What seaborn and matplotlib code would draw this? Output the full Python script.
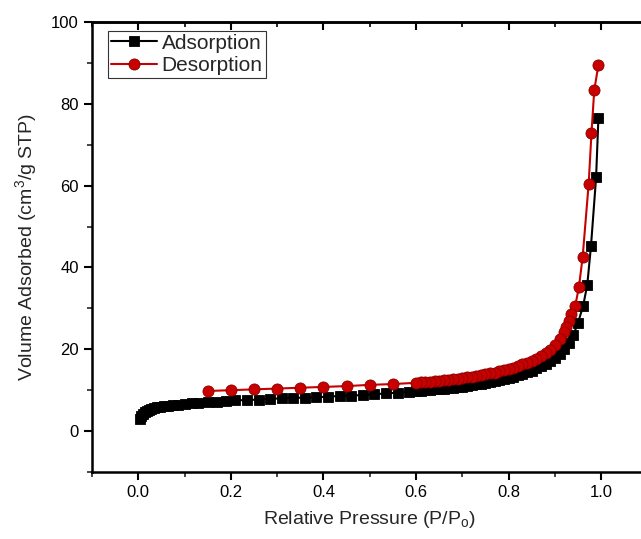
import numpy as np
import pandas as pd
import seaborn as sns
import matplotlib
matplotlib.use("Agg")
import matplotlib.pyplot as plt
from matplotlib.ticker import MultipleLocator

# adsorption branch (P/Po, volume)
ads_p = [0.003, 0.006, 0.01, 0.014, 0.018, 0.023, 0.028, 0.034, 0.04, 0.048,
         0.056, 0.065, 0.075, 0.085, 0.1, 0.115, 0.13, 0.15, 0.17, 0.19,
         0.21, 0.235, 0.26, 0.285, 0.31, 0.335, 0.36, 0.385, 0.41, 0.435,
         0.46, 0.485, 0.51, 0.535, 0.56, 0.585, 0.6,
         0.61, 0.62, 0.63, 0.64, 0.65, 0.66, 0.67, 0.68, 0.69, 0.70,
         0.71, 0.72, 0.73, 0.74, 0.75, 0.76, 0.77, 0.78, 0.79, 0.80,
         0.81, 0.82, 0.83, 0.84, 0.85, 0.86, 0.87, 0.88, 0.89, 0.90,
         0.91, 0.92, 0.93, 0.94, 0.95, 0.961, 0.970, 0.978, 0.989, 0.994]
ads_v = [3.0, 3.6, 4.2, 4.6, 4.9, 5.2, 5.4, 5.6, 5.8, 6.0,
         6.1, 6.2, 6.4, 6.5, 6.6, 6.8, 6.9, 7.0, 7.2, 7.3,
         7.5, 7.6, 7.7, 7.9, 8.0, 8.1, 8.2, 8.3, 8.4, 8.6,
         8.7, 8.8, 9.0, 9.2, 9.4, 9.6, 9.8,
         9.9, 10.0, 10.1, 10.2, 10.3, 10.4, 10.5, 10.6, 10.8, 10.9,
         11.1, 11.2, 11.4, 11.6, 11.8, 12.0, 12.2, 12.5, 12.7, 13.0,
         13.3, 13.6, 14.0, 14.4, 14.8, 15.3, 15.8, 16.4, 17.1, 17.8,
         18.8, 20.0, 21.5, 23.5, 26.5, 30.6, 35.8, 45.3, 62.0, 76.5]

# desorption branch
des_p = [0.994, 0.985, 0.979, 0.973, 0.960, 0.952, 0.944,
         0.935, 0.93, 0.925, 0.92, 0.91, 0.90, 0.89, 0.88, 0.87, 0.86,
         0.85, 0.84, 0.83, 0.82, 0.81, 0.80, 0.79, 0.78, 0.77, 0.76,
         0.75, 0.74, 0.73, 0.72, 0.71, 0.70, 0.69, 0.68, 0.67, 0.66,
         0.65, 0.64, 0.63, 0.62, 0.61, 0.60,
         0.55, 0.50, 0.45, 0.40, 0.35, 0.30, 0.25, 0.20, 0.15]
des_v = [89.5, 83.3, 72.8, 60.5, 42.6, 35.3, 30.6,
         28.5, 26.8, 25.4, 24.2, 22.4, 21.0, 19.9, 19.0, 18.3, 17.7,
         17.2, 16.7, 16.3, 15.9, 15.5, 15.2, 14.9, 14.6, 14.3, 14.1,
         13.9, 13.7, 13.5, 13.3, 13.1, 13.0, 12.8, 12.7, 12.5, 12.4,
         12.3, 12.2, 12.1, 12.0, 11.9, 11.8,
         11.5, 11.3, 11.0, 10.8, 10.6, 10.4, 10.2, 10.0, 9.8]

x_ticks = [0.0, 0.2, 0.4, 0.6, 0.8, 1.0]
x_minor = [-0.1, 0.1, 0.3, 0.5, 0.7, 0.9, 1.1]
x_ticklabels = ["0.0", "0.2", "0.4", "0.6", "0.8", "1.0"]
y_ticks = [0, 20, 40, 60, 80, 100]

ads = pd.DataFrame({"p": ads_p, "v": ads_v})
des = pd.DataFrame({"p": des_p, "v": des_v})

sns.set_style("ticks")
plt.rcParams["font.family"] = ["Liberation Sans", "DejaVu Sans"]
plt.rcParams["mathtext.fontset"] = "custom"
plt.rcParams["mathtext.rm"] = "Liberation Sans"

rect = [0.1435, 0.1243, 0.8666, 0.8349]
fig = plt.figure(figsize=(6.41, 5.39), dpi=100)
ax = fig.add_axes(rect)

sns.lineplot(data=ads, x="p", y="v", ax=ax, sort=False, color="black",
             marker="s", markersize=6.5, markeredgewidth=0.6,
             markeredgecolor="black", linewidth=1.5, label="Adsorption")
sns.lineplot(data=des, x="p", y="v", ax=ax, sort=False, color="#c80000",
             marker="o", markersize=8, markeredgewidth=0.6,
             markeredgecolor="#8a0000", linewidth=1.5, label="Desorption")

ax.set_xlim(-0.1, 1.1)
ax.set_ylim(-10, 100)
ax.xaxis.set_minor_locator(MultipleLocator(0.1))
ax.yaxis.set_minor_locator(MultipleLocator(10))
ax.set_xticks(x_ticks)
ax.set_xticklabels(x_ticklabels)
ax.set_yticks(y_ticks)

for s in ax.spines.values():
    s.set_visible(True)
    s.set_linewidth(1.8)
    s.set_color("black")

ax.tick_params(which="major", direction="out", length=6, width=1.5,
               labelsize=12, colors="black", right=False)
ax.tick_params(which="minor", direction="out", length=3.5, width=1.2,
               right=False)

ax.set_xlabel("Relative Pressure (P/P$_\\mathregular{o}$)", fontsize=14, labelpad=6)
ax.set_ylabel("Volume Adsorbed (cm$^\\mathregular{3}$/g STP)", fontsize=14, labelpad=8)

leg = ax.legend(loc="upper left", bbox_to_anchor=(0.022, 0.99), frameon=True,
                fancybox=False, fontsize=15, handlelength=2.2,
                borderpad=0.15, labelspacing=0.15, handletextpad=0.2,
                borderaxespad=0.2)
leg.get_frame().set_edgecolor("black")
leg.get_frame().set_linewidth(0.8)

# overlay axes only for the inward ticks on the top edge
top = fig.add_axes(rect, facecolor="none")
top.set_xlim(-0.1, 1.1)
top.set_ylim(0, 1)
top.xaxis.tick_top()
top.set_xticks(x_ticks)
top.set_xticks(x_minor, minor=True)
top.tick_params(axis="x", which="major", direction="in", length=6, width=1.5,
                top=True, bottom=False, labeltop=False, labelbottom=False,
                color="black")
top.tick_params(axis="x", which="minor", direction="in", length=3.5, width=1.2,
                top=True, bottom=False, color="black")
top.tick_params(axis="y", left=False, right=False, labelleft=False)
for name, s in top.spines.items():
    s.set_visible(name == "top")
top.spines["top"].set_linewidth(1.8)
top.spines["top"].set_color("black")

fig.savefig("out.png", dpi=100)
